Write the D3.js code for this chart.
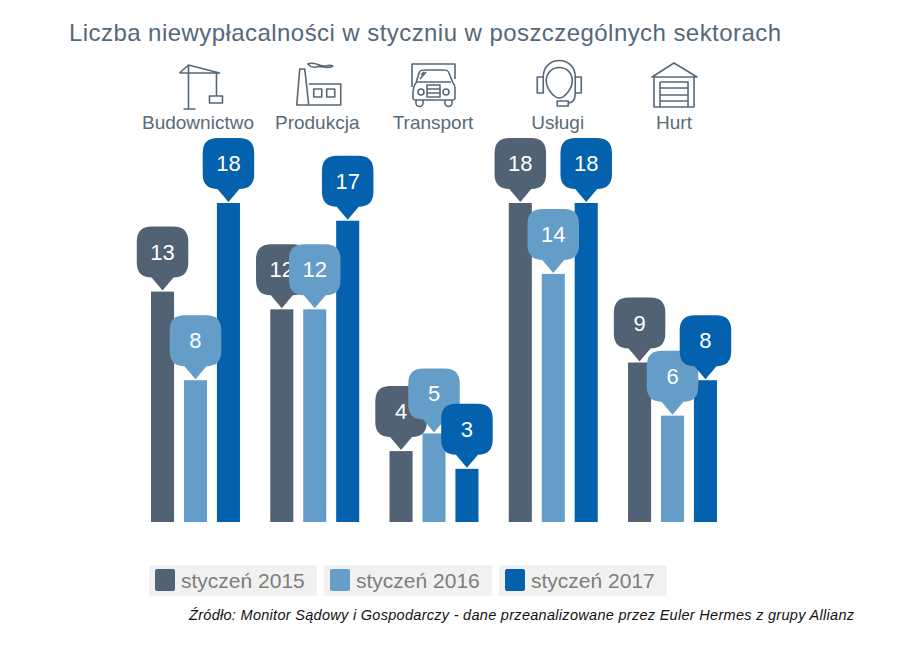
<!DOCTYPE html>
<html><head><meta charset="utf-8">
<script src="https://cdn.jsdelivr.net/npm/d3@7/dist/d3.min.js"></script>
<style>html,body{margin:0;padding:0;background:#fff}svg{display:block}text{font-family:"Liberation Sans",Arial,sans-serif}</style>
</head><body><svg id="c" width="900" height="652"></svg>
<script>
const categories = ["Budownictwo","Produkcja","Transport","Usługi","Hurt"];
const seriesNames = ["styczeń 2015","styczeń 2016","styczeń 2017"];
const v2015 = [13,12,4,18,9];
const v2016 = [8,12,5,14,6];
const v2017 = [18,17,3,18,8];
const colors = ["#506273","#659dc9","#0361ae"];
const titleText = "Liczba niewypłacalności w styczniu w poszczególnych sektorach";
const sourceText = "Źródło: Monitor Sądowy i Gospodarczy - dane przeanalizowane przez Euler Hermes z grupy Allianz";
const seriesValues = [v2015,v2016,v2017];

const svg = d3.select("#c");
const x0 = d3.scaleBand().domain(categories).range([151,717]).paddingInner(0.254);
const x1 = d3.scaleBand().domain(seriesNames).range([0,x0.bandwidth()]).paddingInner(0.3);
const y = d3.scaleLinear().domain([0,18]).range([522,203]);

svg.append("text").attr("x",69).attr("y",41).attr("font-size",24).attr("fill","#54687a").attr("textLength",712).text(titleText);

// icons
const icons = {
 "Budownictwo":[
  "M-7,-22 V22 M-12,22 H0 M-16,-14 L-7,-22 L24,-14 L-16,-14 M21,-14 V9",
  "M14,9 H27 V16 H14 Z"],
 "Produkcja":[
  "M-22,18 L-19,-18 L-14,-18 L-10,18 Z M-10,-3 H22 V18 H-10",
  "M-5,2 H3 V10 H-5 Z M8,2 H16 V10 H8 Z",
  "M-11,-23 C-4,-26 1,-20 7,-21 C10,-22 12,-22 14,-21 C8,-17 3,-22 -3,-20 C-6,-19 -9,-21 -11,-23 Z"],
 "Transport":[
  "M-21,0 V-23 H22 V-8",
  "M-20,8 C-20,0 -19,-2 -17,-4 L-14,-14 C-13,-17 -11,-17 -8,-17 H10 C13,-17 15,-17 16,-14 L20,-4 C22,-2 22,0 22,8 V11 C22,13 21,13 19,13 H-17 C-19,13 -20,13 -20,11 Z",
  "M-16,-5 H18 M-6,-2 H7 V10 H-6 Z M-6,2 H7 M-6,6 H7",
  "M-13,-8 L-7,-15 M-12,-12 L-9,-15",
  "M-15,5 a3,3 0 1,0 6,0 a3,3 0 1,0 -6,0 M10,5 a3,3 0 1,0 6,0 a3,3 0 1,0 -6,0",
  "M-17,13 V16 a3,3 0 0,0 7,0 V13 M12,13 V16 a3,3 0 0,0 7,0 V13"],
 "Usługi":[
  "M-13,-6 C-13,-24 13,-24 13,-6 C13,2 5,11 0,11 C-5,11 -13,2 -13,-6 Z",
  "M-16,-10 C-16,-32 16,-32 16,-10",
  "M-22,-10 H-16 V6 H-22 Z M16,-10 H22 V6 H16 Z",
  "M16,6 C16,13 13,16 9,16",
  "M-2,14 H9 V19 H-2 Z"],
 "Hurt":[
  "M-22,-10 L0,-24 L23,-10 Z M-20,-10 V20 H20 V-10",
  "M-14,-5 H14 V20 M-14,-5 V20",
  "M-14,1 H14 M-14,8 H14 M-14,14 H14"]
};
const iconNudge = {"Budownictwo":0,"Produkcja":4,"Transport":-1,"Usługi":6,"Hurt":1.5};
const labelNudge = {"Budownictwo":2.5,"Produkcja":2.5,"Transport":-1,"Usługi":4.5,"Hurt":1.5};

categories.forEach(c=>{
  const cx = x0(c)+x0.bandwidth()/2;
  const g = svg.append("g").attr("transform",`translate(${cx+iconNudge[c]},87)`);
  g.selectAll("path").data(icons[c]).join("path").attr("d",d=>d)
    .attr("fill","none").attr("stroke","#566878").attr("stroke-width",1.6).attr("stroke-linejoin","round");
  svg.append("text").attr("x",cx+labelNudge[c]).attr("y",129).attr("text-anchor","middle")
    .attr("font-size",19).attr("fill","#5a6a79").text(c);
});

// bars
const points = [];
categories.forEach((c,i)=>seriesNames.forEach((s,j)=>points.push({c,s,j,v:seriesValues[j][i]})));
svg.append("g").selectAll("rect").data(points).join("rect")
  .attr("x",d=>x0(d.c)+x1(d.s)).attr("width",x1.bandwidth())
  .attr("y",d=>y(d.v)).attr("height",d=>y(0)-y(d.v)).attr("fill",d=>colors[d.j]);

// callouts
const w=51.5,h=51,r=15,tip=13;
function bubble(){
  const a=w/2,b=-tip-h;
  return `M0,0 L-11,${-tip} H${-a+r} Q${-a},${-tip} ${-a},${-tip-r} V${b+r} Q${-a},${b} ${-a+r},${b} H${a-r} Q${a},${b} ${a},${b+r} V${-tip-r} Q${a},${-tip} ${a-r},${-tip} H11 Z`;
}
const bg = svg.append("g").selectAll("g").data(points).join("g")
  .attr("transform",d=>`translate(${x0(d.c)+x1(d.s)+x1.bandwidth()/2},${y(d.v)-1})`);
bg.append("path").attr("d",bubble()).attr("fill",d=>colors[d.j]);
bg.append("text").attr("y",-31).attr("text-anchor","middle").attr("font-size",22).attr("fill","#fff").text(d=>d.v);

// legend
const lx = d3.scaleBand().domain(seriesNames).range([150,666]).paddingInner(9/175);
const lg = svg.append("g").selectAll("g").data(seriesNames).join("g").attr("transform",d=>`translate(${lx(d)},566)`);
lg.append("rect").attr("width",lx.bandwidth()).attr("height",29).attr("fill","#f1f1f1").attr("stroke","#ececec");
lg.append("rect").attr("x",5).attr("y",3).attr("width",20).attr("height",22).attr("rx",2).attr("fill",(d,i)=>colors[i]);
lg.append("text").attr("x",31).attr("y",21.5).attr("font-size",21).attr("fill","#7d7d7d").text(d=>d);

svg.append("text").attr("x",189).attr("y",620).attr("font-size",14.5).attr("font-style","italic").attr("fill","#111").attr("textLength",665).text(sourceText);
</script></body></html>
